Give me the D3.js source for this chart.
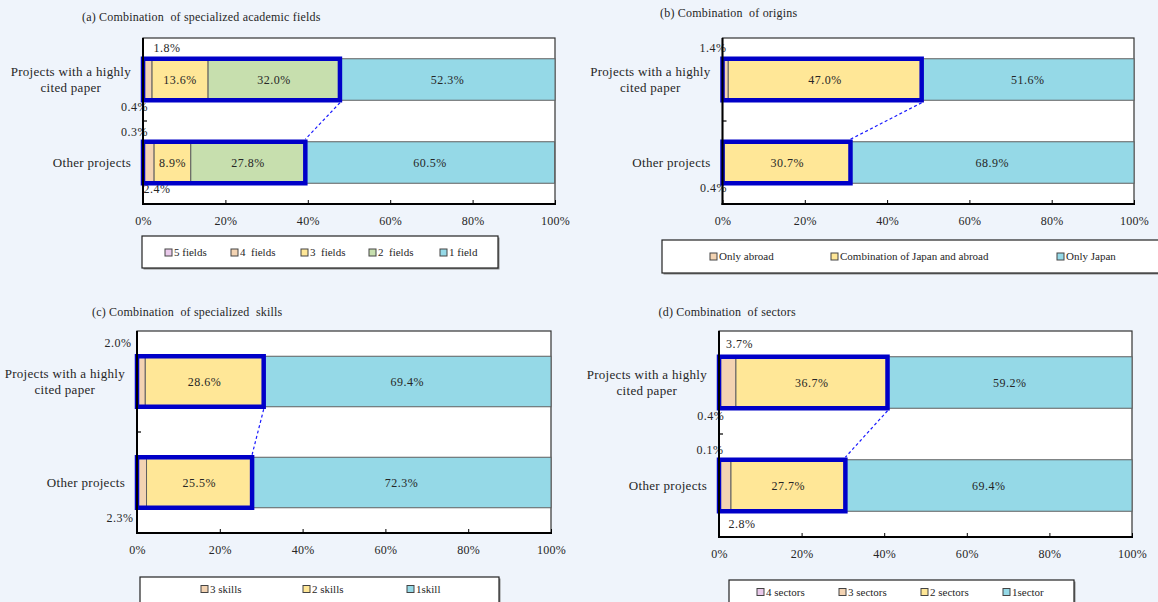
<!DOCTYPE html>
<html>
<head>
<meta charset="utf-8">
<script src="https://cdn.jsdelivr.net/npm/d3@7"></script>
<style>
  body { margin: 0; background: #eff4fb; }
  svg { display: block; font-family: "Liberation Serif", "Times New Roman", serif; }
</style>
</head>
<body>
<svg id="chart" width="1158" height="602"></svg>
<script>
// ---- data ----
const categories = ["Projects with a highly cited paper", "Other projects"];
const categoryLines = [["Projects with a highly", "cited paper"], ["Other projects"]];
const xTicks = [0, 20, 40, 60, 80, 100];

// (a) specialized academic fields
const fieldSeries = ["5 fields", "4  fields", "3  fields", "2  fields", "1 field"];
const fieldHighlyCited = [0.4, 1.8, 13.6, 32.0, 52.3];
const fieldOther = [0.3, 2.4, 8.9, 27.8, 60.5];

// (b) origins
const originSeries = ["Only abroad", "Combination of Japan and abroad", "Only Japan"];
const originHighlyCited = [1.4, 47.0, 51.6];
const originOther = [0.4, 30.7, 68.9];

// (c) specialized skills
const skillSeries = ["3 skills", "2 skills", "1skill"];
const skillHighlyCited = [2.0, 28.6, 69.4];
const skillOther = [2.3, 25.5, 72.3];

// (d) sectors
const sectorSeries = ["4 sectors", "3 sectors", "2 sectors", "1sector"];
const sectorHighlyCited = [0.4, 3.7, 36.7, 59.2];
const sectorOther = [0.1, 2.8, 27.7, 69.4];

// ---- colours ----
const PINK = "#e9c9ea", PEACH = "#f3d3b2", YELLOW = "#ffe797", GREEN = "#c7dfae", CYAN = "#95d9e7";
const HIGHLIGHT = "#0000c8";

// ---- layout of the four panels ----
const panels = [
  {
    id: "a", title: "(a) Combination  of specialized academic fields", titleXY: [82, 21],
    series: fieldSeries, rows: [fieldHighlyCited, fieldOther],
    colors: [PINK, PEACH, YELLOW, GREEN, CYAN],
    plot: { x0: 143, x1: 555, y0: 38, y1: 204 },
    legend: { x: 142, y: 236, w: 356, h: 32, textY: 16.5, items: [165, 231, 301, 369, 440] },
    outside: [
      { row: 0, seg: 1, side: "above", dx: 24, gap: 11 },
      { row: 0, seg: 0, side: "below", dx: -8.5, gap: 7 },
      { row: 1, seg: 0, side: "above", dx: -8.5, gap: 10 },
      { row: 1, seg: 1, side: "below", dx: 14, gap: 6 }
    ]
  },
  {
    id: "b", title: "(b) Combination  of origins", titleXY: [660, 17],
    series: originSeries, rows: [originHighlyCited, originOther],
    colors: [PEACH, YELLOW, CYAN],
    plot: { x0: 722.5, x1: 1134, y0: 38, y1: 204 },
    legend: { x: 662, y: 240, w: 500, h: 33, textY: 16.5, items: [710, 831, 1057] },
    outside: [
      { row: 0, seg: 0, side: "above", dx: -9.5, gap: 11 },
      { row: 1, seg: 0, side: "below", dx: -9, gap: 5 }
    ]
  },
  {
    id: "c", title: "(c) Combination  of specialized  skills", titleXY: [92, 316],
    series: skillSeries, rows: [skillHighlyCited, skillOther],
    colors: [PEACH, YELLOW, CYAN],
    plot: { x0: 137, x1: 551, y0: 331, y1: 533 },
    legend: { x: 140, y: 577, w: 359, h: 34, textY: 12, items: [201, 303, 407] },
    outside: [
      { row: 0, seg: 0, side: "above", dx: -19, gap: 13 },
      { row: 1, seg: 0, side: "below", dx: -17, gap: 10 }
    ]
  },
  {
    id: "d", title: "(d) Combination  of sectors", titleXY: [658.5, 316],
    series: sectorSeries, rows: [sectorHighlyCited, sectorOther],
    colors: [PINK, PEACH, YELLOW, CYAN],
    plot: { x0: 719, x1: 1132, y0: 331, y1: 537 },
    legend: { x: 729, y: 580, w: 345, h: 34, textY: 12, items: [757, 839, 921, 1003] },
    outside: [
      { row: 0, seg: 1, side: "above", dx: 20.6, gap: 12.5 },
      { row: 0, seg: 0, side: "below", dx: -8.3, gap: 8 },
      { row: 1, seg: 0, side: "above", dx: -9, gap: 9.5 },
      { row: 1, seg: 1, side: "below", dx: 23, gap: 13 }
    ],
    clipLeft: 587
  }
];

const TEXT = "#262626";
const svg = d3.select("#chart");
const defs = svg.append("defs");
const fmt = v => v.toFixed(1) + "%";

panels.forEach(p => {
  const g = svg.append("g").attr("class", "panel-" + p.id);
  if (p.clipLeft) {
    defs.append("clipPath").attr("id", "clip-" + p.id)
      .append("rect").attr("x", p.clipLeft).attr("y", 280).attr("width", 700).attr("height", 340);
    g.attr("clip-path", `url(#clip-${p.id})`);
  }

  const { x0, x1, y0, y1 } = p.plot;
  const x = d3.scaleLinear().domain([0, 100]).range([x0, x1]).clamp(true);
  const y = d3.scaleBand().domain(categories).range([y0, y1]).paddingInner(0.5).paddingOuter(0.25);
  const bw = y.bandwidth();

  const table = categories.map((c, i) => {
    const row = { category: c };
    p.series.forEach((s, j) => { row[s] = p.rows[i][j]; });
    return row;
  });
  const stacked = d3.stack().keys(p.series)(table);

  // title
  g.append("text")
    .attr("x", p.titleXY[0]).attr("y", p.titleXY[1])
    .attr("font-size", 12).attr("letter-spacing", 0.2).attr("fill", TEXT)
    .style("white-space", "pre")
    .text(p.title);

  // plot area
  g.append("rect")
    .attr("x", x0).attr("y", y0).attr("width", x1 - x0).attr("height", y1 - y0)
    .attr("fill", "#fff").attr("stroke", "#333").attr("stroke-width", 1.2);

  // stacked segments
  g.selectAll("g.layer").data(stacked).join("g")
    .attr("class", "layer")
    .attr("fill", (d, i) => p.colors[i])
    .selectAll("rect").data(d => d).join("rect")
    .attr("x", d => x(d[0]))
    .attr("y", d => y(d.data.category))
    .attr("width", d => Math.max(0, x(d[1]) - x(d[0])))
    .attr("height", bw)
    .attr("stroke", "#5f5f5f").attr("stroke-width", 1);

  // value labels
  const outsideKey = new Map(p.outside.map(o => [o.row + "-" + o.seg, o]));
  stacked.forEach((layer, j) => {
    layer.forEach((d, i) => {
      const v = p.rows[i][j];
      const o = outsideKey.get(i + "-" + j);
      const top = y(categories[i]);
      let tx, ty;
      if (o) {
        tx = x0 + o.dx;
        ty = o.side === "above" ? top - o.gap : top + bw + o.gap;
      } else {
        tx = (x(d[0]) + x(d[1])) / 2;
        ty = top + bw / 2;
      }
      g.append("text")
        .attr("x", tx).attr("y", ty).attr("dy", "0.35em")
        .attr("text-anchor", "middle")
        .attr("font-size", 12).attr("letter-spacing", 0.5).attr("fill", TEXT)
        .text(fmt(v));
    });
  });

  // highlight boxes around the multi-category part of each bar
  const lastButOne = stacked[stacked.length - 2];
  const ends = categories.map((c, i) => lastButOne[i][1]);
  categories.forEach((c, i) => {
    g.append("rect")
      .attr("x", x(0)).attr("y", y(c))
      .attr("width", x(ends[i]) - x(0)).attr("height", bw)
      .attr("fill", "none").attr("stroke", HIGHLIGHT).attr("stroke-width", 4.5);
  });
  g.append("line")
    .attr("x1", x(ends[0])).attr("y1", y(categories[0]) + bw + 2.5)
    .attr("x2", x(ends[1])).attr("y2", y(categories[1]) - 2.5)
    .attr("stroke", "#1a1aff").attr("stroke-width", 1.2).attr("stroke-dasharray", "3,2.5");

  // x axis
  const ax = g.append("g").attr("transform", `translate(0,${y1})`)
    .call(d3.axisBottom(x).tickValues(xTicks).tickFormat(d => d + "%")
      .tickSizeInner(-4).tickSizeOuter(0).tickPadding(12));
  ax.select(".domain").remove();
  ax.selectAll(".tick line").attr("stroke", "#000");
  ax.selectAll(".tick text")
    .attr("font-family", "Liberation Serif, serif")
    .attr("font-size", 12).attr("letter-spacing", 0.3).attr("fill", TEXT);

  // axis lines
  g.append("line").attr("x1", x0).attr("x2", x0).attr("y1", y0).attr("y2", y1 + 1)
    .attr("stroke", "#000").attr("stroke-width", 2);
  g.append("line").attr("x1", x0 - 1).attr("x2", x1 + 1).attr("y1", y1).attr("y2", y1)
    .attr("stroke", "#000").attr("stroke-width", 2);
  // category divider tick
  const mid = y0 + y.step();
  g.append("line").attr("x1", x0).attr("x2", x0 + 4).attr("y1", mid).attr("y2", mid)
    .attr("stroke", "#000").attr("stroke-width", 1.2);

  // category labels (multi-line, lines centred within a right-aligned block)
  const labelRight = x0 - 12;
  const lineH = 15.5;
  categories.forEach((c, i) => {
    const lines = categoryLines[i];
    const t = g.append("text")
      .attr("font-size", 13).attr("letter-spacing", 0.3).attr("fill", TEXT)
      .attr("text-anchor", "middle");
    const spans = lines.map((ln, k) => t.append("tspan").text(ln));
    const maxW = d3.max(spans, s => s.node().getComputedTextLength());
    const cy = y(c) + bw / 2;
    spans.forEach((s, k) => {
      s.attr("x", labelRight - maxW / 2)
        .attr("y", cy + (k - (lines.length - 1) / 2) * lineH)
        .attr("dy", "0.35em");
    });
  });

  // legend
  const L = p.legend;
  g.append("rect").attr("x", L.x + 1.5).attr("y", L.y + 1.5).attr("width", L.w).attr("height", L.h)
    .attr("fill", "#8a8a8a");
  g.append("rect").attr("x", L.x).attr("y", L.y).attr("width", L.w).attr("height", L.h)
    .attr("fill", "#fff").attr("stroke", "#222").attr("stroke-width", 1.2);
  const cyL = L.y + L.textY;
  p.series.forEach((s, j) => {
    const lx = L.items[j];
    g.append("rect").attr("x", lx).attr("y", cyL - 3.5).attr("width", 7).attr("height", 7)
      .attr("fill", p.colors[j]).attr("stroke", "#444").attr("stroke-width", 1);
    g.append("text").attr("x", lx + 9).attr("y", cyL).attr("dy", "0.35em")
      .attr("font-size", 11).attr("fill", TEXT)
      .style("white-space", "pre")
      .text(s);
  });
});
</script>
</body>
</html>
